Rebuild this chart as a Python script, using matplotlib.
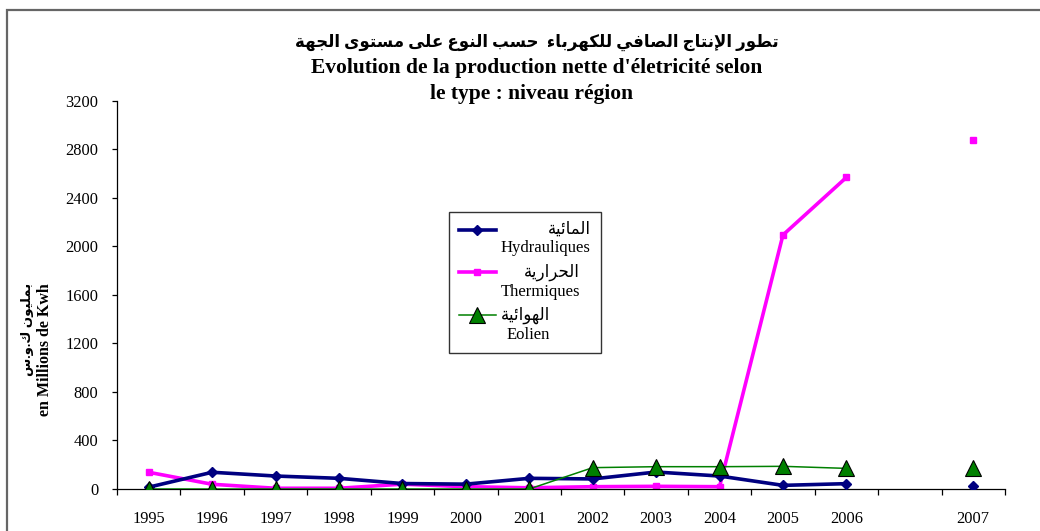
import numpy as np
import matplotlib
matplotlib.use("Agg")
import matplotlib.pyplot as plt
from matplotlib.patches import Rectangle
from matplotlib.font_manager import FontProperties

FAM = ["Liberation Serif", "DejaVu Sans"]

# --- data -------------------------------------------------------------
years = ["1995", "1996", "1997", "1998", "1999", "2000", "2001",
         "2002", "2003", "2004", "2005", "2006", "", "2007"]
hydro = [15, 138, 107, 88, 45, 40, 88, 83, 140, 107, 30, 44, np.nan, 25]
thermo = [138, 39, 6, 6, 40, 19, 10, 19, 22, 19, 2095, 2570, np.nan, 2880]
eolien = [0, 0, 0, 0, 0, 0, 0, 176, 184, 184, 187, 170, np.nan, 176]

title_ar = "تطور الإنتاج الصافي للكهرباء  حسب النوع على مستوى الجهة"
title_fr = ["Evolution de la production nette d'életricité selon",
            "le type : niveau région"]
ylabel_ar = "بمليون ك.و.س"
ylabel_fr = "en Millions de Kwh"
names_ar = ["المائية", "الحرارية", "الهوائية"]
names_fr = ["Hydrauliques", "Thermiques", "Eolien"]
yticks = list(range(0, 3201, 400))

# --- minimal arabic shaping (matplotlib has no RTL / joining) ---------
BASE = {'ء': 0xFE80, 'آ': 0xFE81, 'أ': 0xFE83, 'ؤ': 0xFE85, 'إ': 0xFE87,
        'ئ': 0xFE89, 'ا': 0xFE8D, 'ب': 0xFE8F, 'ة': 0xFE93, 'ت': 0xFE95,
        'ث': 0xFE99, 'ج': 0xFE9D, 'ح': 0xFEA1, 'خ': 0xFEA5, 'د': 0xFEA9,
        'ذ': 0xFEAB, 'ر': 0xFEAD, 'ز': 0xFEAF, 'س': 0xFEB1, 'ش': 0xFEB5,
        'ص': 0xFEB9, 'ض': 0xFEBD, 'ط': 0xFEC1, 'ظ': 0xFEC5, 'ع': 0xFEC9,
        'غ': 0xFECD, 'ف': 0xFED1, 'ق': 0xFED5, 'ك': 0xFED9, 'ل': 0xFEDD,
        'م': 0xFEE1, 'ن': 0xFEE5, 'ه': 0xFEE9, 'و': 0xFEED, 'ى': 0xFEEF,
        'ي': 0xFEF1}
DUAL = set("ئبتثجحخسشصضطظعغفقكلمنهي")
NONJOIN = set("ء")
LAM_ALEF = {'آ': 0xFEF5, 'أ': 0xFEF7, 'إ': 0xFEF9, 'ا': 0xFEFB}


def shape_ar(s):
    toks = []
    i = 0
    while i < len(s):
        c = s[i]
        if c == 'ل' and i + 1 < len(s) and s[i + 1] in LAM_ALEF:
            toks.append((LAM_ALEF[s[i + 1]], "R"))
            i += 2
            continue
        if c in BASE:
            t = "D" if c in DUAL else ("U" if c in NONJOIN else "R")
            toks.append((BASE[c], t))
        else:
            toks.append((c, None))
        i += 1
    out = []
    for k, (b, t) in enumerate(toks):
        if t is None:
            out.append(b)
            continue
        if t == "U":
            out.append(chr(b))
            continue
        prev_t = toks[k - 1][1] if k > 0 else None
        next_t = toks[k + 1][1] if k + 1 < len(toks) else None
        jp = prev_t == "D"
        jn = t == "D" and next_t in ("D", "R")
        if t == "D":
            form = 3 if (jp and jn) else 1 if jp else 2 if jn else 0
        else:
            form = 1 if jp else 0
        out.append(chr(b + form))
    return "".join(out)[::-1]


# --- figure ----------------------------------------------------------
fig = plt.figure(figsize=(10.4, 5.31), dpi=100)
ax = fig.add_axes([0.1125, 0.0791, 0.8538, 0.7307])

x = np.arange(len(years))
labels = [shape_ar(a) + "\n" + f for a, f in zip(names_ar, names_fr)]
ax.plot(x, hydro, color="#000080", lw=2.6, marker="D", ms=5.5,
        label=labels[0], zorder=3)
ax.plot(x, thermo, color="#FF00FF", lw=2.6, marker="s", ms=5,
        label=labels[1], zorder=2)
ax.plot(x, eolien, color="#008000", lw=1.1, marker="^", ms=12,
        markerfacecolor="#008000", markeredgecolor="black", mew=0.8,
        label=labels[2], zorder=4)

ax.set_xlim(-0.5, len(years) - 0.5)
ax.set_ylim(0, 3200)
ax.set_yticks(yticks)
ax.set_xticks(x)
ax.set_xticklabels(years)
ax.set_xticks(np.arange(-0.5, len(years)), minor=True)
for s in ("top", "right"):
    ax.spines[s].set_visible(False)
for s in ("left", "bottom"):
    ax.spines[s].set_linewidth(0.9)
ax.tick_params(axis="x", which="major", length=0, pad=16)
ax.tick_params(axis="x", which="minor", length=4, width=0.9, direction="out")
ax.tick_params(axis="y", length=3.5, width=0.9, pad=10)
for lab in ax.get_xticklabels() + ax.get_yticklabels():
    lab.set_family(FAM)
    lab.set_fontsize(11.8)

leg = ax.legend(loc="upper left", bbox_to_anchor=(449 / 1040, 1 - 212 / 531),
                bbox_transform=fig.transFigure, frameon=True, fancybox=False,
                prop=FontProperties(family=FAM, size=12), handlelength=2.2,
                labelspacing=0.45, borderpad=0.6, handletextpad=0.3,
                borderaxespad=0)
leg.get_frame().set_edgecolor("black")
leg.get_frame().set_linewidth(1.0)
for t in leg.get_texts():
    t.set_multialignment("right")
for h in leg.legend_handles:
    h.set_ydata(np.asarray(h.get_ydata()) + 7)

# titles
fig.text(0.516, 1 - 42 / 531, shape_ar(title_ar), ha="center", va="center",
         family=FAM, fontsize=12, fontweight="bold")
fig.text(0.516, 1 - 68 / 531, title_fr[0], ha="center", va="center",
         family=FAM, fontsize=15.5, fontweight="bold")
fig.text(0.511, 1 - 94 / 531, title_fr[1], ha="center", va="center",
         family=FAM, fontsize=15.5, fontweight="bold")

# y label
fig.text(28 / 1040, 1 - 283 / 531, shape_ar(ylabel_ar), rotation=90,
         ha="center", va="top", family=FAM, fontsize=9.5,
         fontweight="bold")
fig.text(45 / 1040, 1 - 283 / 531, ylabel_fr, rotation=90,
         ha="center", va="top", family=FAM, fontsize=11.5,
         fontweight="bold")

# outer chart-area border (cropped on right/bottom)
fig.patches.append(Rectangle((7 / 1040, -0.2), 1.2, 1.2 - 10 / 531,
                             transform=fig.transFigure, fill=False,
                             edgecolor="#666666", linewidth=1.6))

fig.savefig("out.png", dpi=100)
